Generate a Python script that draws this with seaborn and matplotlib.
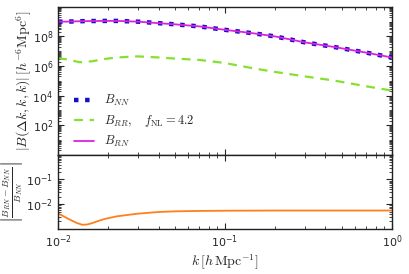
import numpy as np
import pandas as pd
import seaborn as sns
import matplotlib
matplotlib.use("Agg")
import matplotlib.pyplot as plt
from matplotlib.ticker import LogLocator, NullFormatter

# values
k = [0.01, 0.0113, 0.0135, 0.016, 0.019, 0.0225, 0.03, 0.04, 0.05, 0.07,
     0.1, 0.15, 0.2, 0.3, 0.45, 0.7, 1.0]
b_nn = [1.0e9, 1.0e9, 1.07e9, 1.1e9, 1.12e9, 1.12e9, 1.0e9, 7.9e8, 6.6e8, 4.8e8,
        2.8e8, 1.6e8, 1.0e8, 4.0e7, 1.95e7, 8.1e6, 3.8e6]
b_rr = [3.4e6, 2.8e6, 1.8e6, 2.1e6, 3.0e6, 3.8e6, 4.5e6, 3.8e6, 3.2e6, 2.6e6,
        1.6e6, 6.8e5, 4.0e5, 2.0e5, 1.05e5, 4.3e4, 2.2e4]
b_rn = [1.0e9, 1.0e9, 1.07e9, 1.1e9, 1.12e9, 1.12e9, 1.0e9, 7.9e8, 6.6e8, 4.8e8,
        2.8e8, 1.6e8, 1.0e8, 4.0e7, 1.95e7, 8.1e6, 3.8e6]

# relative difference, read on a finer grid near the dip
k_rel = [0.01, 0.011, 0.012, 0.013, 0.014, 0.015, 0.016, 0.0175, 0.019, 0.0225,
         0.03, 0.04, 0.05, 0.07, 0.1, 0.2, 0.4, 0.7, 1.0]
rel_diff = [4.2e-3, 3.0e-3, 2.2e-3, 1.7e-3, 1.45e-3, 1.5e-3, 1.7e-3, 2.1e-3, 2.5e-3, 3.2e-3,
            4.1e-3, 4.8e-3, 5.1e-3, 5.3e-3, 5.4e-3, 5.5e-3, 5.5e-3, 5.5e-3, 5.5e-3]

df = pd.DataFrame({"k": k, "b_nn": b_nn, "b_rr": b_rr, "b_rn": b_rn})
df_rel = pd.DataFrame({"k": k_rel, "rel": rel_diff})

sns.set_style("ticks")
plt.rcParams["mathtext.fontset"] = "cm"
plt.rcParams["xtick.direction"] = "in"
plt.rcParams["ytick.direction"] = "in"
plt.rcParams["xtick.top"] = True
plt.rcParams["ytick.right"] = True

fig, (ax1, ax2) = plt.subplots(2, 1, figsize=(4.09, 2.74), dpi=100, sharex=True,
                               gridspec_kw={"height_ratios": [2, 1], "hspace": 0})
fig.subplots_adjust(left=0.142, right=0.958, top=0.975, bottom=0.165)

sns.lineplot(data=df, x="k", y="b_nn", ax=ax1, color="#1010c8", linestyle=(0, (1, 1.5)),
             linewidth=3.2, label=r"$B_{NN}$")
sns.lineplot(data=df, x="k", y="b_rr", ax=ax1, color="#86e030", linestyle=(0, (4, 3)),
             linewidth=1.6, label=r"$B_{RR},\quad f_{\rm NL}=4.2$")
sns.lineplot(data=df, x="k", y="b_rn", ax=ax1, color="#dd22dd", linewidth=1.3,
             label=r"$B_{RN}$")
sns.lineplot(data=df_rel, x="k", y="rel", ax=ax2, color="#ff7f1e", linewidth=1.3)

for ax in (ax1, ax2):
    ax.set_xscale("log")
    ax.set_yscale("log")
    ax.set_xlim(0.01, 1.0)
    for s in ax.spines.values():
        s.set_linewidth(1.0)
        s.set_color("#222222")
    ax.tick_params(which="major", length=4, width=0.8, labelsize=8)
    ax.tick_params(which="minor", length=2, width=0.6)

ax1.set_ylim(1, 1e10)
ax1.set_yticks([1e2, 1e4, 1e6, 1e8])
ax1.yaxis.set_minor_locator(LogLocator(base=10, subs=np.arange(1, 10), numticks=30))
ax1.yaxis.set_minor_formatter(NullFormatter())
ax1.set_xlabel("")
ax1.set_ylabel(r"$|B(\Delta k, k, k)|\,[h^{-6}\mathrm{Mpc}^{6}]$", fontsize=10)
ax1.yaxis.set_label_coords(-0.072, 0.5)
ax1.legend(loc="lower left", bbox_to_anchor=(0.03, 0.0), frameon=False, fontsize=9,
           handlelength=1.6, borderaxespad=0.15, labelspacing=0.4, borderpad=0.3)

ax2.set_ylim(1e-3, 1)
ax2.set_yticks([1e-2, 1e-1])
ax2.yaxis.set_minor_locator(LogLocator(base=10, subs=np.arange(1, 10), numticks=30))
ax2.yaxis.set_minor_formatter(NullFormatter())
ax2.set_xticks([0.01, 0.1, 1.0])
ax2.set_ylabel(r"$\left|\frac{B_{RN}-B_{NN}}{B_{NN}}\right|$", fontsize=10)
ax2.yaxis.set_label_coords(-0.099, 0.5)
ax2.set_xlabel(r"$k\,[h\,\mathrm{Mpc}^{-1}]$", fontsize=10, labelpad=2)

fig.savefig("out.png", dpi=100)
